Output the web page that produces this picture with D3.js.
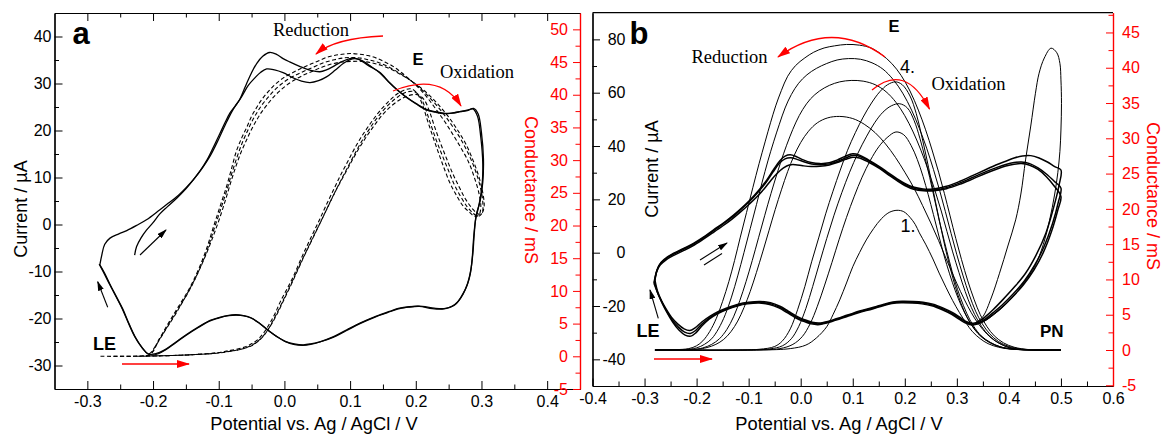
<!DOCTYPE html>
<html><head><meta charset="utf-8">
<script src="https://cdn.jsdelivr.net/npm/d3@7"></script>
<style>
body{margin:0;background:#fff}
svg{display:block}
text{font-family:"Liberation Sans",Arial,sans-serif}
text.serif{font-family:"Liberation Serif","Times New Roman",serif}
</style>
</head><body>
<svg id="c" width="1162" height="434"></svg>
<script>
// ================= DATA =================
// ---- Panel a : x ticks / y ticks ----
const xTicksA = [-0.3,-0.2,-0.1,0.0,0.1,0.2,0.3,0.4];
const xLabelsA = ["-0.3","-0.2","-0.1","0.0","0.1","0.2","0.3","0.4"];
const xMinorA = [-0.25,-0.15,-0.05,0.05,0.15,0.25,0.35];
const iTicksA = [-30,-20,-10,0,10,20,30,40];
const iLabelsA = ["-30","-20","-10","0","10","20","30","40"];
const iMinorA = [-25,-15,-5,5,15,25,35];
const gTicksA = [-5,0,5,10,15,20,25,30,35,40,45,50];
const gLabelsA = ["-5","0","5","10","15","20","25","30","35","40","45","50"];
const gMinorA = [-2.5,2.5,7.5,12.5,17.5,22.5,27.5,32.5,37.5,42.5,47.5];

// ---- Panel a : current (µA), two cycles, solid ----
const currentA1 = [[-0.228,-6.5],[-0.225,-4.7],[-0.218,-2.8],[-0.21,-1.2],[-0.2,0.4],[-0.19,2.2],[-0.178,3.8],[-0.164,5.6],[-0.15,7.6],[-0.138,9.6],[-0.125,12],[-0.113,14.6],[-0.1,18.2],[-0.088,21.8],[-0.078,24.5],[-0.066,27],[-0.055,29.6],[-0.045,31.2],[-0.036,32.4],[-0.027,33.1],[-0.015,32.9],[-0.002,32.3],[0.0135,31.2],[0.026,30.5],[0.039,30.2],[0.052,30.6],[0.064,31.4],[0.077,32.8],[0.09,34.3],[0.1,35.1],[0.108,35.3],[0.118,34.9],[0.13,33.8],[0.145,32.3],[0.158,30.4],[0.171,28.7],[0.185,27.2],[0.2,25.8],[0.216,24.5],[0.23,24],[0.242,23.7],[0.255,23.7],[0.267,24],[0.28,24.3],[0.288,24.7],[0.295,23.5],[0.3,19.5],[0.303,14],[0.302,9],[0.298,5],[0.292,2],[0.289,-2],[0.287,-6],[0.284,-9.5],[0.279,-12.5],[0.272,-14.8],[0.264,-16.4],[0.255,-17.4],[0.243,-17.9],[0.228,-17.8],[0.21,-17.4],[0.19,-17.5],[0.175,-17.8],[0.16,-18.5],[0.14,-19.5],[0.115,-21],[0.095,-22.4],[0.074,-23.9],[0.055,-24.9],[0.04,-25.4],[0.029,-25.6],[0.015,-25.4],[0.002,-24.9],[-0.01,-24],[-0.022,-22.8],[-0.037,-21.1],[-0.05,-19.9],[-0.062,-19.4],[-0.073,-19.3],[-0.085,-19.4],[-0.1,-19.8],[-0.113,-20.4],[-0.13,-21.7],[-0.149,-23.4],[-0.165,-25],[-0.179,-26.4],[-0.19,-27.2],[-0.2,-27.6],[-0.208,-27.5],[-0.216,-26.3],[-0.226,-24.2],[-0.236,-21.3],[-0.246,-18],[-0.256,-15.3],[-0.266,-12.6],[-0.274,-10.3],[-0.281,-8.6]];
const currentA2 = [[-0.281,-8.6],[-0.278,-6.5],[-0.2735,-4.2],[-0.2655,-2.9],[-0.252,-2.0],[-0.24,-1.3],[-0.225,-0.2],[-0.21,1.0],[-0.19,3.1],[-0.177,4.5],[-0.164,5.9],[-0.15,7.8],[-0.139,9.5],[-0.128,11.5],[-0.118,13.7],[-0.108,16.5],[-0.098,19.4],[-0.09,21.8],[-0.083,23.7],[-0.075,25.2],[-0.068,26.6],[-0.062,28.5],[-0.0575,30],[-0.05,32.3],[-0.042,34.3],[-0.033,35.8],[-0.0225,36.6],[-0.012,36.2],[-0.002,35.3],[0.008,34.6],[0.024,33.6],[0.04,32.8],[0.054,32.5],[0.064,32.9],[0.074,33.6],[0.085,34.5],[0.095,35.1],[0.105,35.4],[0.115,35],[0.128,33.8],[0.145,32.4],[0.16,30.2],[0.172,28.6],[0.186,27],[0.2,25.7],[0.216,24.4],[0.23,23.9],[0.242,23.6],[0.255,23.7],[0.267,24],[0.28,24.4],[0.287,24.6],[0.294,23],[0.299,18.5],[0.302,13],[0.301,8.5],[0.296,4],[0.291,1],[0.288,-3],[0.286,-7],[0.283,-10.5],[0.278,-13],[0.27,-15.2],[0.262,-16.8],[0.253,-17.6],[0.24,-18],[0.225,-17.9],[0.205,-17.4],[0.188,-17.6],[0.172,-18],[0.156,-18.8],[0.138,-19.7],[0.115,-21.1],[0.094,-22.6],[0.074,-24],[0.054,-25],[0.04,-25.5],[0.028,-25.7],[0.014,-25.5],[0.0,-24.8],[-0.012,-23.8],[-0.024,-22.6],[-0.038,-21],[-0.051,-19.9],[-0.063,-19.4],[-0.074,-19.2],[-0.087,-19.4],[-0.1,-19.9],[-0.115,-20.6],[-0.131,-21.9],[-0.15,-23.6],[-0.166,-25.2],[-0.18,-26.6],[-0.192,-27.5],[-0.201,-27.8],[-0.209,-27.4],[-0.218,-26],[-0.228,-23.8],[-0.238,-20.8],[-0.248,-17.6],[-0.258,-14.9],[-0.268,-12.2],[-0.276,-10],[-0.282,-8.4]];

// ---- Panel a : conductance (mS), three cycles, dashed ----
const condA1 = [[-0.28,0],[-0.24,0],[-0.2,0.05],[-0.16,0.15],[-0.13,0.3],[-0.1,0.55],[-0.088,0.8],[-0.072,1.1],[-0.058,1.5],[-0.047,2.1],[-0.038,2.8],[-0.03,3.8],[-0.022,5.1],[-0.014,6.6],[-0.006,8.4],[0.004,10.3],[0.014,12.3],[0.024,14.6],[0.034,16.8],[0.044,18.9],[0.054,21],[0.064,23.2],[0.075,25.5],[0.085,27.6],[0.096,29.7],[0.108,32],[0.12,34],[0.133,35.9],[0.145,37.5],[0.158,38.9],[0.17,40],[0.182,40.7],[0.193,40.9],[0.202,40.2],[0.21,38.5],[0.218,36],[0.227,33.3],[0.235,31],[0.243,28.8],[0.252,26.5],[0.262,24.6],[0.272,23],[0.282,22],[0.29,21.4],[0.296,21.6],[0.299,22.8],[0.296,25],[0.289,27.4],[0.28,29.8],[0.268,32],[0.256,34],[0.244,35.9],[0.232,37.6],[0.218,39.5],[0.205,41],[0.191,42.3],[0.178,43.4],[0.166,44.3],[0.153,45],[0.14,45.6],[0.127,46],[0.114,46.2],[0.1,46.3],[0.088,46.2],[0.076,46],[0.064,45.7],[0.05,45.1],[0.038,44.6],[0.025,44],[0.013,43.4],[0.002,42.8],[-0.008,42.1],[-0.018,41.2],[-0.027,40.2],[-0.035,39.2],[-0.042,38.1],[-0.05,36.7],[-0.057,35.1],[-0.065,33.4],[-0.073,31.4],[-0.08,28.9],[-0.088,26],[-0.098,22.9],[-0.108,19.8],[-0.118,16.6],[-0.129,13.7],[-0.139,11.5],[-0.149,9.6],[-0.162,7.5],[-0.174,5.5],[-0.185,3.6],[-0.194,2],[-0.2,0.8],[-0.206,0.2],[-0.23,0],[-0.26,0]];
const condA2 = [[-0.26,0],[-0.2,0.05],[-0.15,0.2],[-0.11,0.45],[-0.085,0.75],[-0.065,1.1],[-0.05,1.6],[-0.04,2.3],[-0.031,3.2],[-0.023,4.4],[-0.015,5.9],[-0.006,7.7],[0.003,9.6],[0.013,11.7],[0.023,13.9],[0.033,16],[0.043,18.1],[0.054,20.3],[0.065,22.6],[0.076,24.9],[0.087,27.1],[0.098,29.2],[0.11,31.5],[0.122,33.6],[0.135,35.6],[0.148,37.3],[0.161,38.7],[0.173,39.7],[0.186,40.4],[0.197,40.5],[0.206,39.8],[0.214,38.1],[0.222,35.7],[0.231,33.1],[0.24,30.8],[0.249,28.6],[0.258,26.4],[0.268,24.5],[0.278,22.9],[0.287,21.9],[0.295,21.4],[0.301,21.9],[0.302,23.6],[0.298,26],[0.29,28.6],[0.28,31],[0.268,33.3],[0.255,35.3],[0.242,37.1],[0.228,38.8],[0.214,40.3],[0.2,41.6],[0.186,42.6],[0.172,43.5],[0.158,44.3],[0.144,44.9],[0.13,45.3],[0.116,45.6],[0.102,45.7],[0.088,45.6],[0.074,45.3],[0.06,44.9],[0.046,44.3],[0.032,43.7],[0.019,43.1],[0.006,42.4],[-0.005,41.6],[-0.015,40.7],[-0.024,39.7],[-0.033,38.6],[-0.041,37.4],[-0.049,36],[-0.056,34.5],[-0.064,32.7],[-0.072,30.5],[-0.08,28],[-0.088,25.3],[-0.097,22.5],[-0.107,19.5],[-0.117,16.4],[-0.128,13.6],[-0.138,11.4],[-0.148,9.5],[-0.161,7.4],[-0.173,5.4],[-0.184,3.6],[-0.193,2.1],[-0.199,0.9],[-0.205,0.25],[-0.225,0]];
const condA3 = [[-0.225,0],[-0.18,0.1],[-0.13,0.3],[-0.1,0.5],[-0.08,0.8],[-0.062,1.2],[-0.048,1.8],[-0.036,2.7],[-0.027,3.8],[-0.018,5.2],[-0.009,6.9],[0.0,8.8],[0.01,10.9],[0.02,13.1],[0.03,15.3],[0.041,17.6],[0.052,19.9],[0.063,22.2],[0.074,24.5],[0.086,26.8],[0.098,29],[0.11,31.2],[0.123,33.3],[0.136,35.2],[0.149,36.9],[0.163,38.3],[0.177,39.3],[0.19,39.9],[0.203,40],[0.213,39.2],[0.221,37.4],[0.229,35],[0.238,32.5],[0.247,30.2],[0.256,28],[0.266,25.9],[0.276,24],[0.286,22.6],[0.294,21.8],[0.3,21.8],[0.304,22.9],[0.302,25],[0.296,27.5],[0.287,30],[0.276,32.5],[0.263,34.7],[0.25,36.6],[0.236,38.3],[0.222,39.8],[0.207,41.1],[0.192,42.2],[0.177,43.1],[0.162,43.9],[0.147,44.5],[0.132,44.9],[0.117,45.1],[0.102,45.1],[0.087,45],[0.072,44.7],[0.057,44.2],[0.043,43.6],[0.029,43],[0.016,42.3],[0.004,41.5],[-0.007,40.6],[-0.017,39.6],[-0.026,38.5],[-0.035,37.3],[-0.043,36],[-0.051,34.5],[-0.058,33],[-0.066,31.2],[-0.074,29],[-0.082,26.5],[-0.09,23.8],[-0.099,21],[-0.109,18.2],[-0.12,15.4],[-0.131,12.9],[-0.142,10.7],[-0.154,8.5],[-0.166,6.4],[-0.178,4.5],[-0.188,2.9],[-0.196,1.6],[-0.203,0.6],[-0.21,0.1]];

// ---- Panel b : ticks ----
const xTicksB = [-0.4,-0.3,-0.2,-0.1,0.0,0.1,0.2,0.3,0.4,0.5,0.6];
const xLabelsB = ["-0.4","-0.3","-0.2","-0.1","0.0","0.1","0.2","0.3","0.4","0.5","0.6"];
const xMinorB = [-0.35,-0.25,-0.15,-0.05,0.05,0.15,0.25,0.35,0.45,0.55];
const iTicksB = [-40,-20,0,20,40,60,80];
const iLabelsB = ["-40","-20","0","20","40","60","80"];
const iMinorB = [-30,-10,10,30,50,70];
const gTicksB = [-5,0,5,10,15,20,25,30,35,40,45];
const gLabelsB = ["-5","0","5","10","15","20","25","30","35","40","45"];
const gMinorB = [-2.5,2.5,7.5,12.5,17.5,22.5,27.5,32.5,37.5,42.5,47.5];

// ---- Panel b : current (µA), three cycles ----
const currentB1 = [[-0.28,-10.3],[-0.275,-6],[-0.268,-3.6],[-0.256,-1.6],[-0.244,-0.2],[-0.225,1.6],[-0.206,3.5],[-0.187,5.8],[-0.168,8.5],[-0.148,11.2],[-0.129,14.1],[-0.113,16.8],[-0.097,19.8],[-0.081,23.3],[-0.065,27.3],[-0.052,31.2],[-0.04,34.5],[-0.03,36.2],[-0.02,36.7],[-0.008,36],[0.005,34.8],[0.02,33.8],[0.037,33.4],[0.055,33.7],[0.07,34.7],[0.085,36.1],[0.1,37.1],[0.113,36.6],[0.13,34.8],[0.152,32.2],[0.17,29.7],[0.184,27.9],[0.2,26],[0.216,24.6],[0.235,23.9],[0.254,23.9],[0.28,24.9],[0.305,26.7],[0.33,28.9],[0.356,31.2],[0.375,32.9],[0.394,34.3],[0.41,35.5],[0.426,36.3],[0.442,36.4],[0.458,35.5],[0.474,34],[0.488,32.3],[0.5,31],[0.496,25],[0.486,17],[0.471,7.3],[0.452,-1],[0.432,-7.7],[0.41,-13],[0.388,-17.7],[0.37,-21.3],[0.356,-23.8],[0.343,-25.7],[0.332,-26.5],[0.32,-26],[0.307,-24.4],[0.292,-22.5],[0.273,-20.7],[0.254,-19.3],[0.235,-18.6],[0.216,-18.3],[0.195,-18.2],[0.177,-18.5],[0.16,-19.3],[0.14,-20.5],[0.113,-21.9],[0.09,-23.4],[0.062,-25.2],[0.045,-26.1],[0.035,-26.4],[0.022,-26.1],[0.007,-25.1],[-0.008,-23.8],[-0.024,-21.9],[-0.04,-20.1],[-0.058,-18.8],[-0.078,-18.3],[-0.1,-18.6],[-0.12,-19.3],[-0.14,-20.6],[-0.158,-22],[-0.174,-23.8],[-0.19,-26],[-0.203,-28.2],[-0.213,-29.2],[-0.224,-28.6],[-0.236,-26.8],[-0.248,-24.3],[-0.259,-21],[-0.268,-17.8],[-0.275,-14.5],[-0.28,-10.3]];
const currentB2 = [[-0.281,-11],[-0.276,-6.5],[-0.269,-4],[-0.257,-2],[-0.245,-0.6],[-0.226,1.2],[-0.207,3.1],[-0.188,5.4],[-0.169,8],[-0.149,10.8],[-0.13,13.6],[-0.114,16.4],[-0.098,19.3],[-0.082,22.7],[-0.066,26.5],[-0.053,30.3],[-0.041,33.5],[-0.03,35.2],[-0.019,35.6],[-0.007,35],[0.006,34.1],[0.021,33.3],[0.038,33],[0.056,33.3],[0.071,34.2],[0.086,35.5],[0.101,36.5],[0.114,36.1],[0.131,34.4],[0.152,31.8],[0.17,29.3],[0.185,27.4],[0.2,25.6],[0.217,24.2],[0.236,23.5],[0.256,23.5],[0.28,24.4],[0.305,26.1],[0.33,28.2],[0.356,30.4],[0.376,31.9],[0.394,33.1],[0.41,33.8],[0.424,34],[0.44,33.4],[0.456,31.8],[0.472,29.5],[0.487,26.8],[0.5,24.2],[0.495,19],[0.484,11],[0.468,2.5],[0.45,-4.5],[0.43,-10.5],[0.408,-15.5],[0.387,-19.6],[0.369,-22.6],[0.355,-24.8],[0.342,-26.2],[0.331,-26.8],[0.319,-26.2],[0.306,-24.7],[0.291,-22.8],[0.272,-21],[0.253,-19.6],[0.234,-18.9],[0.215,-18.6],[0.194,-18.5],[0.176,-18.8],[0.159,-19.6],[0.139,-20.8],[0.112,-22.2],[0.089,-23.7],[0.061,-25.5],[0.044,-26.4],[0.034,-26.7],[0.021,-26.4],[0.006,-25.4],[-0.009,-24.1],[-0.025,-22.2],[-0.041,-20.4],[-0.059,-19.1],[-0.079,-18.6],[-0.101,-18.9],[-0.121,-19.7],[-0.141,-21],[-0.159,-22.5],[-0.175,-24.4],[-0.19,-26.8],[-0.202,-29.2],[-0.212,-30.3],[-0.223,-29.8],[-0.235,-27.9],[-0.247,-25.2],[-0.258,-21.7],[-0.267,-18.4],[-0.275,-15],[-0.281,-11]];
const currentB3 = [[-0.282,-11.5],[-0.277,-7.2],[-0.27,-4.6],[-0.258,-2.6],[-0.246,-1.2],[-0.227,0.6],[-0.208,2.5],[-0.189,4.8],[-0.17,7.3],[-0.15,10],[-0.132,12.6],[-0.116,15.2],[-0.1,18],[-0.085,20.8],[-0.07,24],[-0.057,27.2],[-0.045,29.8],[-0.033,31.8],[-0.022,32.9],[-0.01,33],[0.004,32.6],[0.02,32.3],[0.037,32.4],[0.055,32.9],[0.07,33.8],[0.086,35],[0.1,35.8],[0.113,35.5],[0.13,34],[0.152,31.5],[0.17,29],[0.185,27],[0.2,25.2],[0.217,23.8],[0.236,23.2],[0.256,23.2],[0.28,24],[0.305,25.6],[0.33,27.6],[0.356,29.8],[0.376,31.3],[0.394,32.5],[0.41,33.2],[0.424,33.4],[0.44,32.8],[0.456,31.2],[0.472,28.5],[0.487,25],[0.5,21],[0.494,16],[0.482,8],[0.466,0],[0.448,-6.5],[0.428,-12],[0.406,-16.8],[0.386,-20.6],[0.368,-23.4],[0.354,-25.4],[0.341,-26.7],[0.33,-27.1],[0.318,-26.5],[0.305,-25],[0.29,-23.1],[0.271,-21.3],[0.252,-19.9],[0.233,-19.2],[0.214,-18.9],[0.193,-18.8],[0.175,-19.1],[0.158,-19.9],[0.138,-21.1],[0.111,-22.5],[0.088,-24],[0.06,-25.8],[0.043,-26.7],[0.033,-27],[0.02,-26.7],[0.005,-25.7],[-0.01,-24.4],[-0.026,-22.5],[-0.042,-20.7],[-0.06,-19.4],[-0.08,-18.9],[-0.102,-19.2],[-0.122,-20],[-0.142,-21.3],[-0.16,-22.9],[-0.176,-24.9],[-0.19,-27.5],[-0.201,-30],[-0.211,-31.3],[-0.222,-30.9],[-0.234,-29],[-0.246,-26],[-0.257,-22.4],[-0.266,-19],[-0.274,-15.5],[-0.282,-11.5]];
// first scan to 0.5 V: large oxidation peak near 0.48 V (µA)
const currentBpeak = [[0.338,-26],[0.35,-24],[0.366,-17],[0.382,-7.7],[0.398,2.5],[0.413,12.3],[0.423,22],[0.432,34.8],[0.442,47.5],[0.451,59.8],[0.458,67.3],[0.468,73],[0.481,76.7],[0.492,75],[0.498,71],[0.5,64.8],[0.501,56],[0.5,46],[0.498,38],[0.494,30],[0.488,22],[0.478,12],[0.466,3],[0.45,-5],[0.43,-11],[0.408,-16.5],[0.386,-20.8],[0.366,-24],[0.348,-26.2],[0.336,-26.8]];

// ---- Panel b : conductance (mS), cycles 1-4 (forward then reverse) ----
const condB1 = [[-0.28,0],[-0.08,0],[-0.02,0.2],[0.01,0.7],[0.03,1.7],[0.05,3.3],[0.062,5],[0.075,7.1],[0.088,9.5],[0.1,11.8],[0.113,13.8],[0.126,15.6],[0.14,17.2],[0.155,18.6],[0.17,19.5],[0.185,19.8],[0.198,19.6],[0.21,18.8],[0.22,17.8],[0.228,16.6],[0.24,15],[0.254,12.9],[0.266,10.9],[0.279,8.9],[0.292,7],[0.305,5.3],[0.318,3.8],[0.33,2.6],[0.345,1.6],[0.36,0.9],[0.38,0.4],[0.4,0.15],[0.43,0.05],[0.5,0],
 [0.41,0.15],[0.385,0.8],[0.366,1.7],[0.35,2.9],[0.335,4.4],[0.321,6.2],[0.307,8.3],[0.293,10.6],[0.279,13],[0.265,15.5],[0.25,18],[0.234,20.5],[0.218,22.9],[0.2,25.2],[0.182,27.3],[0.163,29.2],[0.143,30.8],[0.122,32],[0.1,32.8],[0.075,33.1],[0.052,32.9],[0.032,32.2],[0.015,31],[0.0,29.4],[-0.013,27.5],[-0.025,25.3],[-0.037,22.7],[-0.049,19.9],[-0.061,16.9],[-0.073,13.9],[-0.085,11],[-0.097,8.3],[-0.109,6],[-0.121,4.1],[-0.134,2.6],[-0.148,1.5],[-0.163,0.8],[-0.18,0.35],[-0.2,0.1],[-0.28,0]];
const condB2 = [[-0.28,0],[-0.1,0],[-0.04,0.2],[-0.015,0.8],[0.003,1.9],[0.018,3.7],[0.032,6.2],[0.046,9.2],[0.06,12.4],[0.074,15.7],[0.088,18.8],[0.103,21.8],[0.118,24.5],[0.134,26.9],[0.15,28.8],[0.166,30.1],[0.183,30.9],[0.198,30.5],[0.212,29],[0.224,27],[0.235,24.6],[0.245,22],[0.255,19.2],[0.265,16.3],[0.275,13.5],[0.286,10.8],[0.297,8.4],[0.309,6.2],[0.322,4.3],[0.336,2.8],[0.352,1.6],[0.37,0.8],[0.39,0.3],[0.42,0.08],[0.46,0],[0.5,0],
 [0.42,0.1],[0.392,0.6],[0.372,1.4],[0.355,2.6],[0.341,4.1],[0.328,6],[0.316,8.3],[0.304,11],[0.292,13.9],[0.281,16.8],[0.27,19.7],[0.258,22.6],[0.245,25.5],[0.231,28.3],[0.216,30.9],[0.2,33.2],[0.183,35.1],[0.164,36.6],[0.143,37.6],[0.12,38.1],[0.097,38.2],[0.075,38],[0.055,37.5],[0.036,36.7],[0.019,35.6],[0.004,34.1],[-0.009,32.3],[-0.021,30.2],[-0.033,27.8],[-0.045,25.1],[-0.057,22.2],[-0.069,19.1],[-0.081,15.9],[-0.093,12.7],[-0.105,9.7],[-0.117,7],[-0.129,4.7],[-0.142,2.9],[-0.156,1.6],[-0.171,0.8],[-0.188,0.3],[-0.21,0.05],[-0.28,0]];
const condB3 = [[-0.28,0],[-0.12,0],[-0.06,0.15],[-0.035,0.6],[-0.018,1.6],[-0.004,3.3],[0.01,5.9],[0.023,9],[0.036,12.3],[0.05,15.8],[0.064,19.1],[0.079,22.3],[0.094,25.2],[0.11,27.9],[0.126,30.2],[0.142,32.2],[0.158,33.7],[0.174,34.6],[0.19,34.9],[0.205,34.3],[0.218,32.5],[0.229,30],[0.239,27.2],[0.248,24.4],[0.257,21.4],[0.266,18.4],[0.276,15.4],[0.286,12.5],[0.296,9.8],[0.307,7.4],[0.319,5.2],[0.332,3.4],[0.347,2],[0.364,1.1],[0.384,0.45],[0.41,0.12],[0.45,0],[0.5,0],
 [0.43,0.1],[0.4,0.5],[0.38,1.2],[0.363,2.3],[0.349,3.7],[0.336,5.5],[0.324,7.8],[0.312,10.5],[0.3,13.5],[0.289,16.5],[0.278,19.6],[0.267,22.6],[0.255,25.6],[0.242,28.6],[0.228,31.4],[0.213,34],[0.196,36.4],[0.178,38.3],[0.158,39.8],[0.137,40.7],[0.115,41.2],[0.092,41.3],[0.07,41.1],[0.05,40.6],[0.03,39.9],[0.012,39],[-0.004,37.8],[-0.018,36.2],[-0.03,34.3],[-0.041,32],[-0.052,29.5],[-0.063,26.8],[-0.074,23.8],[-0.085,20.6],[-0.097,17.2],[-0.109,13.8],[-0.121,10.5],[-0.133,7.5],[-0.145,5],[-0.158,3],[-0.171,1.6],[-0.185,0.8],[-0.2,0.3],[-0.225,0.05],[-0.28,0]];
const condB4 = [[-0.28,0],[-0.15,0],[-0.08,0.1],[-0.05,0.5],[-0.035,1.3],[-0.02,3],[-0.006,5.7],[0.008,9],[0.021,12.5],[0.035,16],[0.048,19.3],[0.062,22.5],[0.076,25.5],[0.09,28.3],[0.105,30.8],[0.12,33],[0.136,35],[0.152,36.6],[0.167,37.6],[0.182,38],[0.195,37.6],[0.21,36],[0.222,33.5],[0.232,30.5],[0.241,27.5],[0.25,24.3],[0.259,21],[0.268,17.8],[0.277,14.7],[0.287,11.7],[0.297,9],[0.308,6.6],[0.32,4.6],[0.333,3],[0.348,1.8],[0.365,1],[0.385,0.4],[0.41,0.1],[0.45,0],[0.5,0],
 [0.44,0.05],[0.41,0.4],[0.39,1],[0.372,2],[0.358,3.3],[0.345,5],[0.333,7.2],[0.321,9.8],[0.309,12.8],[0.298,15.8],[0.287,19],[0.276,22.2],[0.265,25.2],[0.253,28.2],[0.24,31.2],[0.226,34],[0.21,36.7],[0.193,38.9],[0.175,40.6],[0.155,41.9],[0.135,42.8],[0.113,43.2],[0.088,43.3],[0.065,43.1],[0.045,42.8],[0.025,42.2],[0.008,41.4],[-0.01,40.3],[-0.025,38.8],[-0.037,36.8],[-0.048,34.6],[-0.058,32.2],[-0.068,29.6],[-0.08,26.4],[-0.092,23],[-0.104,19.5],[-0.116,16],[-0.127,12.7],[-0.138,9.7],[-0.15,6.9],[-0.162,4.5],[-0.175,2.6],[-0.188,1.3],[-0.2,0.6],[-0.215,0.2],[-0.24,0.05],[-0.28,0]];

// ================= DRAW =================
const svg = d3.select("#c");
const FONT = '"Liberation Sans",Arial,sans-serif';
const RED = "#ff0000";

const defs = svg.append("defs");
function marker(id, color, w, h){
  defs.append("marker").attr("id",id).attr("markerUnits","userSpaceOnUse")
    .attr("markerWidth",w).attr("markerHeight",h).attr("refX",w-1).attr("refY",h/2)
    .attr("orient","auto").append("path")
    .attr("d",`M0,0L${w},${h/2}L0,${h}Z`).attr("fill",color);
}
marker("ar", RED, 13, 8);
marker("ab", "#000", 10, 6);

function styleAxis(g, color, size){
  g.attr("font-size", size).attr("font-family", FONT).attr("color", color);
  g.selectAll("path.domain").attr("stroke-width", 1.2);
  g.selectAll(".tick line").attr("stroke-width", 1);
  g.selectAll(".tick text").attr("fill", color);
}

// ---------- Panel a ----------
const xA = d3.scaleLinear().domain([-0.35,0.45]).range([54.5,580]);
const yA = d3.scaleLinear().domain([-35,45]).range([389,13]);
const gA = d3.scaleLinear().domain([-5,52.5]).range([389,13]);

svg.append("clipPath").attr("id","clipA").append("rect").attr("x",54.5).attr("y",13).attr("width",525.5).attr("height",376);
svg.append("clipPath").attr("id","clipB").append("rect").attr("x",592.5).attr("y",12.7).attr("width",520.5).attr("height",373.3);

svg.append("g").attr("transform","translate(0,389)")
  .call(d3.axisBottom(xA).tickValues(xMinorA).tickFormat("").tickSizeInner(-4.5).tickSizeOuter(0))
  .call(g=>styleAxis(g,"#000",16));
svg.append("g").attr("transform","translate(0,13)")
  .call(d3.axisTop(xA).tickValues(xMinorA).tickFormat("").tickSizeInner(-4.5).tickSizeOuter(0))
  .call(g=>styleAxis(g,"#000",16));
svg.append("g").attr("transform","translate(54.5,0)")
  .call(d3.axisLeft(yA).tickValues(iMinorA).tickFormat("").tickSizeInner(-4.5).tickSizeOuter(0))
  .call(g=>styleAxis(g,"#000",16));
svg.append("g").attr("transform","translate(580,0)")
  .call(d3.axisLeft(gA).tickValues(gMinorA).tickFormat("").tickSizeInner(4.5).tickSizeOuter(0))
  .call(g=>styleAxis(g,RED,16));
svg.append("g").attr("transform","translate(0,389)")
  .call(d3.axisBottom(xA).tickValues(xTicksA).tickFormat((d,i)=>xLabelsA[i]).tickSizeInner(-8).tickSizeOuter(0).tickPadding(7))
  .call(g=>styleAxis(g,"#000",16));
svg.append("g").attr("transform","translate(0,13)")
  .call(d3.axisTop(xA).tickValues(xTicksA).tickFormat("").tickSizeInner(-8).tickSizeOuter(0))
  .call(g=>styleAxis(g,"#000",16));
svg.append("g").attr("transform","translate(54.5,0)")
  .call(d3.axisLeft(yA).tickValues(iTicksA).tickFormat((d,i)=>iLabelsA[i]).tickSizeInner(-8).tickSizeOuter(0).tickPadding(3))
  .call(g=>styleAxis(g,"#000",16));
svg.append("g").attr("transform","translate(580,0)")
  .call(d3.axisLeft(gA).tickValues(gTicksA).tickFormat((d,i)=>gLabelsA[i]).tickSizeInner(7).tickSizeOuter(0).tickPadding(5))
  .call(g=>styleAxis(g,RED,16));

const lineA_I = d3.line().x(d=>xA(d[0])).y(d=>yA(d[1])).curve(d3.curveCatmullRom.alpha(0.5));
const lineA_G = d3.line().x(d=>xA(d[0])).y(d=>gA(d[1])).curve(d3.curveCatmullRom.alpha(0.5));
const pa = svg.append("g").attr("clip-path","url(#clipA)");
[condA1, condA2, condA3].forEach(s=>{
  pa.append("path").attr("d",lineA_G(s)).attr("fill","none").attr("stroke","#000")
    .attr("stroke-width",1.1).attr("stroke-dasharray","4,2.5");
});
[currentA1, currentA2].forEach(s=>{
  pa.append("path").attr("d",lineA_I(s)).attr("fill","none").attr("stroke","#000").attr("stroke-width",1.3);
});

// titles a
svg.append("text").attr("transform","translate(21,209) rotate(-90)").attr("text-anchor","middle")
  .attr("dominant-baseline","central").attr("font-size",18).text("Current / µA");
svg.append("text").attr("transform","translate(531,190) rotate(90)").attr("text-anchor","middle")
  .attr("dominant-baseline","central").attr("font-size",18).attr("fill",RED).text("Conductance / mS");
svg.append("text").attr("x",314).attr("y",430).attr("text-anchor","middle").attr("font-size",18.3).text("Potential vs. Ag / AgCl / V");

// annotations a
svg.append("text").attr("x",81).attr("y",44).attr("text-anchor","middle").attr("font-size",31).attr("font-weight","bold").text("a");
svg.append("text").attr("class","serif").attr("x",273).attr("y",36).attr("font-size",18.5).text("Reduction");
svg.append("text").attr("x",418).attr("y",65).attr("text-anchor","middle").attr("font-size",16.5).attr("font-weight","bold").text("E");
svg.append("text").attr("class","serif").attr("x",440).attr("y",78).attr("font-size",18.5).text("Oxidation");
svg.append("text").attr("x",93).attr("y",349.5).attr("font-size",18).attr("font-weight","bold").text("LE");
svg.append("path").attr("d","M383,36 Q335,38 316,54").attr("fill","none").attr("stroke",RED).attr("stroke-width",1.3).attr("marker-end","url(#ar)");
svg.append("path").attr("d","M393,91 Q440,72 461,106").attr("fill","none").attr("stroke",RED).attr("stroke-width",1.3).attr("marker-end","url(#ar)");
svg.append("line").attr("x1",122).attr("y1",364).attr("x2",189).attr("y2",364).attr("stroke",RED).attr("stroke-width",1.3).attr("marker-end","url(#ar)");
svg.append("line").attr("x1",140).attr("y1",255).attr("x2",166).attr("y2",230).attr("stroke","#000").attr("stroke-width",1.1).attr("marker-end","url(#ab)");
svg.append("line").attr("x1",107.7).attr("y1",307.3).attr("x2",97.7).attr("y2",281.7).attr("stroke","#000").attr("stroke-width",1.1).attr("marker-end","url(#ab)");

// ---------- Panel b ----------
const xB = d3.scaleLinear().domain([-0.4,0.6]).range([592.5,1113]);
const yB = d3.scaleLinear().domain([-50,90]).range([386,12.7]);
const gB = d3.scaleLinear().domain([-5.1,47.8]).range([386,12.7]);

svg.append("g").attr("transform","translate(0,386)")
  .call(d3.axisBottom(xB).tickValues(xMinorB).tickFormat("").tickSizeInner(-4.5).tickSizeOuter(0))
  .call(g=>styleAxis(g,"#000",16));
svg.append("g").attr("transform","translate(592.5,0)")
  .call(d3.axisRight(yB).tickValues(iMinorB).tickFormat("").tickSizeInner(4.5).tickSizeOuter(0))
  .call(g=>styleAxis(g,"#000",16));
svg.append("g").attr("transform","translate(1113,0)")
  .call(d3.axisRight(gB).tickValues(gMinorB).tickFormat("").tickSizeInner(-4.5).tickSizeOuter(0))
  .call(g=>styleAxis(g,RED,16));
svg.append("g").attr("transform","translate(0,386)")
  .call(d3.axisBottom(xB).tickValues(xTicksB).tickFormat((d,i)=>xLabelsB[i]).tickSizeInner(-7.5).tickSizeOuter(0).tickPadding(7))
  .call(g=>styleAxis(g,"#000",16));
svg.append("g").attr("transform","translate(592.5,0)")
  .call(d3.axisRight(yB).tickValues(iTicksB).tickFormat((d,i)=>iLabelsB[i]).tickSizeInner(7.5).tickSizeOuter(0).tickPadding(5))
  .call(g=>{styleAxis(g,"#000",16); g.selectAll(".tick text").attr("text-anchor","end").attr("x",33);});
svg.append("g").attr("transform","translate(1113,0)")
  .call(d3.axisRight(gB).tickValues(gTicksB).tickFormat((d,i)=>gLabelsB[i]).tickSizeInner(-7).tickSizeOuter(0).tickPadding(9))
  .call(g=>styleAxis(g,RED,16));
svg.append("line").attr("x1",592.5).attr("x2",1113).attr("y1",12.7).attr("y2",12.7).attr("stroke","#000").attr("stroke-width",1.2);

const lineB_I = d3.line().x(d=>xB(d[0])).y(d=>yB(d[1])).curve(d3.curveCatmullRom.alpha(0.5));
const lineB_G = d3.line().x(d=>xB(d[0])).y(d=>gB(d[1])).curve(d3.curveCatmullRom.alpha(0.5));
const pb = svg.append("g").attr("clip-path","url(#clipB)");
[condB1, condB2, condB3, condB4].forEach(s=>{
  pb.append("path").attr("d",lineB_G(s)).attr("fill","none").attr("stroke","#000").attr("stroke-width",1.0);
});
pb.append("path").attr("d",lineB_I(currentBpeak)).attr("fill","none").attr("stroke","#000").attr("stroke-width",1.0);
[currentB1, currentB2, currentB3].forEach(s=>{
  pb.append("path").attr("d",lineB_I(s)).attr("fill","none").attr("stroke","#000").attr("stroke-width",1.5);
});

// titles b
svg.append("text").attr("transform","translate(652,169) rotate(-90)").attr("text-anchor","middle")
  .attr("dominant-baseline","central").attr("font-size",18).text("Current / µA");
svg.append("text").attr("transform","translate(1153,196) rotate(90)").attr("text-anchor","middle")
  .attr("dominant-baseline","central").attr("font-size",18).attr("fill",RED).text("Conductance / mS");
svg.append("text").attr("x",839).attr("y",430).attr("text-anchor","middle").attr("font-size",18.3).text("Potential vs. Ag / AgCl / V");

// annotations b
svg.append("text").attr("x",639).attr("y",44).attr("text-anchor","middle").attr("font-size",31).attr("font-weight","bold").text("b");
svg.append("text").attr("class","serif").attr("x",691.5).attr("y",62.5).attr("font-size",18.5).text("Reduction");
svg.append("text").attr("x",894).attr("y",31.5).attr("text-anchor","middle").attr("font-size",16.5).attr("font-weight","bold").text("E");
svg.append("text").attr("x",900).attr("y",72.5).attr("font-size",18).text("4.");
svg.append("text").attr("class","serif").attr("x",931.5).attr("y",90).attr("font-size",18.5).text("Oxidation");
svg.append("text").attr("x",900.5).attr("y",231.5).attr("font-size",18).text("1.");
svg.append("text").attr("x",1040).attr("y",336.5).attr("font-size",17).attr("font-weight","bold").text("PN");
svg.append("text").attr("x",636.5).attr("y",336.5).attr("font-size",18).attr("font-weight","bold").text("LE");
svg.append("path").attr("d","M885,57 Q832,18 778,57").attr("fill","none").attr("stroke",RED).attr("stroke-width",1.3).attr("marker-end","url(#ar)");
svg.append("path").attr("d","M872,90 Q905,62 929.5,109").attr("fill","none").attr("stroke",RED).attr("stroke-width",1.3).attr("marker-end","url(#ar)");
svg.append("line").attr("x1",654).attr("y1",359).attr("x2",712).attr("y2",359).attr("stroke",RED).attr("stroke-width",1.3).attr("marker-end","url(#ar)");
svg.append("line").attr("x1",658.3).attr("y1",318.3).attr("x2",650).attr("y2",290).attr("stroke","#000").attr("stroke-width",1.1).attr("marker-end","url(#ab)");
svg.append("line").attr("x1",700).attr("y1",260).attr("x2",727).attr("y2",243).attr("stroke","#000").attr("stroke-width",1.1).attr("marker-end","url(#ab)");
svg.append("line").attr("x1",704).attr("y1",265).attr("x2",722).attr("y2",253.5).attr("stroke","#000").attr("stroke-width",1.1);
</script>
</body></html>
